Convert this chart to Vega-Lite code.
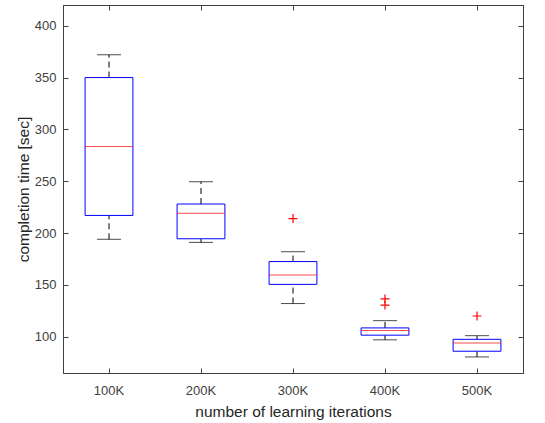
{
  "$schema": "https://vega.github.io/schema/vega-lite/v6.json",
  "autosize": {"type": "none"},
  "width": 460,
  "height": 368,
  "padding": {"left": 63, "top": 5, "right": 22, "bottom": 50},
  "background": "white",
  "config": {
    "font": "Liberation Sans",
    "view": {"stroke": "#404040", "strokeWidth": 1},
    "axis": {
      "domainColor": "#404040",
      "tickColor": "#404040",
      "labelColor": "#404040",
      "titleColor": "#262626",
      "labelFont": "Liberation Sans",
      "titleFont": "Liberation Sans",
      "labelFontSize": 13,
      "titleFontSize": 15.5,
      "titleFontWeight": "normal",
      "tickSize": -5,
      "grid": false
    }
  },
  "datasets": {
    "boxes": [
      {"iter": "100K", "lower": 194, "q1": 217, "median": 283.5, "q3": 350, "upper": 372},
      {"iter": "200K", "lower": 191, "q1": 194.5, "median": 219, "q3": 228, "upper": 249.5},
      {"iter": "300K", "lower": 132, "q1": 150.5, "median": 159.5, "q3": 172.5, "upper": 182},
      {"iter": "400K", "lower": 97, "q1": 101.5, "median": 106, "q3": 108.5, "upper": 115.5},
      {"iter": "500K", "lower": 80.5, "q1": 86, "median": 94, "q3": 97.5, "upper": 101}
    ],
    "outliers": [
      {"iter": "300K", "value": 214},
      {"iter": "400K", "value": 136.5},
      {"iter": "400K", "value": 130.5},
      {"iter": "500K", "value": 120}
    ]
  },
  "layer": [
    {
      "data": {"name": "boxes"},
      "mark": {"type": "rule", "color": "#000000", "strokeWidth": 1, "strokeDash": [6, 4]},
      "encoding": {
        "x": {
          "field": "iter", "type": "nominal",
          "scale": {"type": "band", "paddingInner": 0, "paddingOuter": 0},
          "axis": {"orient": "bottom", "labelAngle": 0, "labelPadding": 16, "title": "number of learning iterations", "titlePadding": 7}
        },
        "y": {
          "field": "lower", "type": "quantitative",
          "scale": {"domain": [65, 420], "nice": false, "zero": false},
          "axis": {"orient": "left", "values": [100, 150, 200, 250, 300, 350, 400], "labelPadding": 12, "title": "completion time [sec]", "titlePadding": 3}
        },
        "y2": {"field": "q1"}
      }
    },
    {
      "data": {"name": "boxes"},
      "mark": {"type": "rule", "color": "#000000", "strokeWidth": 1, "strokeDash": [6, 4]},
      "encoding": {
        "x": {"field": "iter", "type": "nominal", "axis": {"orient": "top", "labels": false, "title": null, "labelAngle": 0}},
        "y": {"field": "q3", "type": "quantitative", "axis": {"orient": "right", "labels": false, "title": null, "values": [100, 150, 200, 250, 300, 350, 400]}},
        "y2": {"field": "upper"}
      }
    },
    {
      "data": {"name": "boxes"},
      "mark": {"type": "tick", "color": "#000000", "size": 24, "thickness": 1},
      "encoding": {
        "x": {"field": "iter", "type": "nominal", "axis": null},
        "y": {"field": "lower", "type": "quantitative", "axis": null}
      }
    },
    {
      "data": {"name": "boxes"},
      "mark": {"type": "tick", "color": "#000000", "size": 24, "thickness": 1},
      "encoding": {
        "x": {"field": "iter", "type": "nominal", "axis": null},
        "y": {"field": "upper", "type": "quantitative", "axis": null}
      }
    },
    {
      "data": {"name": "boxes"},
      "mark": {"type": "bar", "fill": "white", "stroke": "#0000ff", "strokeWidth": 1, "width": {"band": 0.52}},
      "encoding": {
        "x": {"field": "iter", "type": "nominal", "axis": null},
        "y": {"field": "q1", "type": "quantitative", "axis": null},
        "y2": {"field": "q3"}
      }
    },
    {
      "data": {"name": "boxes"},
      "mark": {"type": "tick", "color": "#ff0000", "size": 48, "thickness": 1},
      "encoding": {
        "x": {"field": "iter", "type": "nominal", "axis": null},
        "y": {"field": "median", "type": "quantitative", "axis": null}
      }
    },
    {
      "data": {"name": "outliers"},
      "mark": {"type": "point", "shape": "M-1,0L1,0M0,-1L0,1", "filled": false, "stroke": "#ff0000", "strokeWidth": 1.2, "size": 80, "opacity": 1},
      "encoding": {
        "x": {"field": "iter", "type": "nominal", "axis": null},
        "y": {"field": "value", "type": "quantitative", "axis": null}
      }
    }
  ]
}
